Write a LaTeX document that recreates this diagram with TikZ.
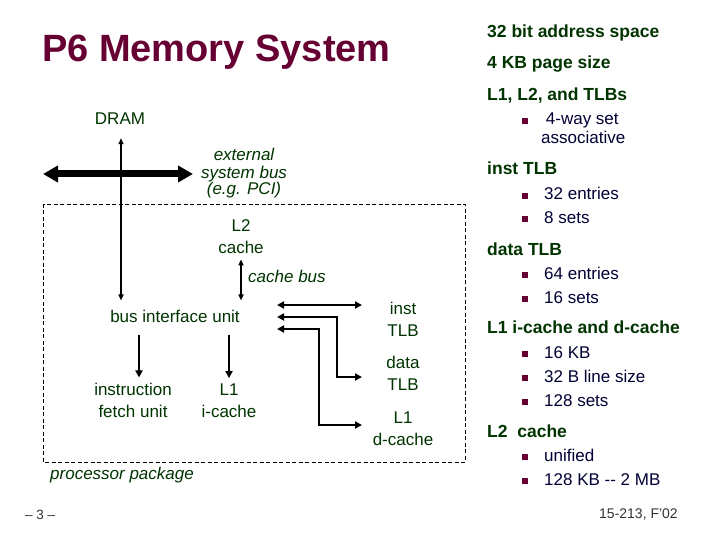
\documentclass[tikz,border=0pt]{standalone}
\usepackage{fontspec}
\setmainfont{Liberation Sans}
\usetikzlibrary{arrows.meta,calc}

\definecolor{titlered}{RGB}{102,0,51}
\definecolor{labelgreen}{RGB}{0,51,0}
\definecolor{itemblue}{RGB}{0,0,51}
\definecolor{footgray}{RGB}{51,51,51}

\tikzset{
  lbl/.style={anchor=base, align=center, inner sep=0pt, text=labelgreen, font=\fontsize{17}{22}\selectfont},
  ilbl/.style={lbl, font=\fontsize{17}{17}\selectfont\itshape},
  head/.style={anchor=base west, inner sep=0pt, text=labelgreen, font=\fontsize{17.5}{20}\selectfont\bfseries},
  item/.style={anchor=base west, align=left, inner sep=0pt, text=itemblue, font=\fontsize{17}{19}\selectfont},
  wire/.style={line width=2pt, >={Triangle[length=7pt,width=7pt]}},
  thinwire/.style={line width=2pt, >={Triangle[length=6pt,width=5pt]}},
  sysbus/.style={line width=7pt, {Triangle[length=15pt,width=16pt]}-{Triangle[length=15pt,width=16pt]}},
  pkgbox/.style={line width=0.8pt, dash pattern=on 4pt off 2.5pt},
}

\begin{document}
\begin{tikzpicture}[x=1pt,y=-1pt]
    \useasboundingbox (0,0) rectangle (720,540);

    % slide title and footer
    \node[anchor=base west, inner sep=0pt, text=titlered, font=\fontsize{38}{40}\selectfont\bfseries] (title) at (42,62) {P6 Memory System};
    \node[anchor=base west, inner sep=0pt, text=footgray, font=\fontsize{13.5}{14}\selectfont] (pageno) at (25,519) {– 3 –};
    \node[anchor=base east, inner sep=0pt, text=footgray, font=\fontsize{14}{14}\selectfont] (course) at (678,518) {15-213, F'02};

    % right column: parameters
    \node[head] (addr) at (487,38) {32 bit address space};
    \node[head] (pagesz) at (487,69) {4 KB page size};
    \node[head] (caches) at (487,101) {L1, L2, and TLBs};
    \node[item, font=\fontsize{17}{19}\selectfont] (assoc) at (541,144) {\ 4-way set\\associative};
    \node[head] (itlbhead) at (487,175) {inst TLB};
    \node[item] (itlb1) at (544,200) {32 entries};
    \node[item] (itlb2) at (544,223) {8 sets};
    \node[head] (dtlbhead) at (487,255) {data TLB};
    \node[item] (dtlb1) at (544,279) {64 entries};
    \node[item] (dtlb2) at (544,303) {16 sets};
    \node[head] (l1head) at (487,333) {L1 i-cache and d-cache};
    \node[item] (l1a) at (544,358) {16 KB};
    \node[item] (l1b) at (544,382) {32 B line size};
    \node[item] (l1c) at (544,406) {128 sets};
    \node[head] (l2head) at (487,437) {L2\ \ cache};
    \node[item] (l2a) at (544,461) {unified};
    \node[item] (l2b) at (544,485) {128 KB -{}- 2 MB};

    % bullets
    \foreach \yb in {121,196,219,275,299,354,378,402,457,481} {
        \fill[titlered] (522,\yb-3) rectangle ++(6,6);
    }

    % left: memory system diagram
    \node[lbl] (dram) at (120,125) {DRAM};
    \node[ilbl] (sysbuslbl) at (244,195) {external\\system bus\\(e.g. PCI)};
    \node[lbl] (l2) at (241,254) {L2\\cache};
    \node[ilbl, anchor=base west] (cbuslbl) at (248,282) {cache bus};
    \node[lbl] (biu) at (175,322) {bus interface unit};
    \node[lbl] (ifu) at (133,417) {instruction\\fetch unit};
    \node[lbl] (l1i) at (229,417) {L1\\i-cache};
    \node[lbl] (itlb) at (403,336) {inst\\TLB};
    \node[lbl] (dtlb) at (403,390) {data\\TLB};
    \node[lbl] (l1d) at (403,445) {L1\\d-cache};
    \node[ilbl, anchor=base west] (pkg) at (50,479) {processor package};

    % processor package outline
    \draw[pkgbox] (43,204) rectangle (465,462);

    % external system bus
    \coordinate (busL) at (43,174);
    \coordinate (busR) at (193,174);
    \draw[sysbus] (busL) -- (busR);

    % vertical links
    \draw[thinwire,<->] ($(dram.south)+(1,13)$) -- ($(dram.south |- biu.north)+(1,-9)$);
    \draw[thinwire,<->] ($(l2.south)+(0,5)$) -- ($(l2.south |- biu.north)+(0,-9)$);
    \draw[wire,->] ($(ifu.north |- biu.south)+(6,13)$) -- ($(ifu.north)+(6,-5)$);
    \draw[wire,->] ($(l1i.north |- biu.south)+(0,13)$) -- ($(l1i.north)+(0,-5)$);

    % links to the TLBs and d-cache
    \coordinate (p-itlb) at (277,305);
    \coordinate (p-dtlb) at (277,317);
    \coordinate (p-dcache) at (277,329);
    \coordinate (e-itlb) at (362,305);
    \coordinate (e-dtlb) at (362,377);
    \coordinate (e-dcache) at (362,425);
    \draw[wire,<->] (p-itlb) -- (e-itlb);
    \draw[wire,<->] (p-dtlb) -- ++(60,0) |- (e-dtlb);
    \draw[wire,<->] (p-dcache) -- ++(42,0) |- (e-dcache);

\end{tikzpicture}
\end{document}
